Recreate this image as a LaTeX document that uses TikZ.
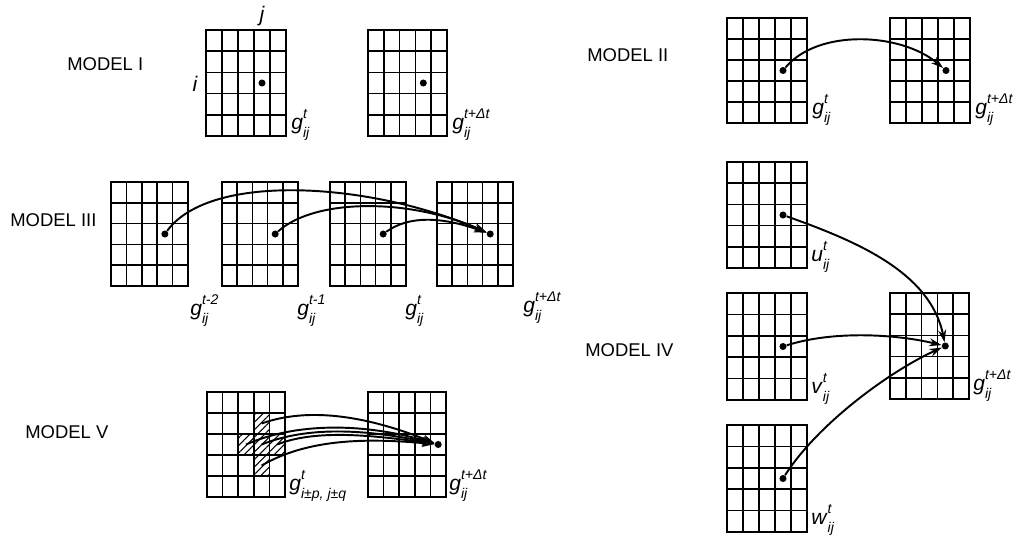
\documentclass[tikz,border=0pt]{standalone}
\usepackage{fontspec}
\setmainfont{Liberation Sans}
\usetikzlibrary{arrows.meta,patterns.meta}

\newcommand\mkgrid[5]{%
  \node[gridbox, minimum width=#4*0.02cm, minimum height=#5*0.02cm] (#1) at (#2,#3) {};
  \expandafter\gdef\csname gL#1\endcsname{#2}%
  \expandafter\gdef\csname gT#1\endcsname{#3}%
  \expandafter\gdef\csname gW#1\endcsname{#4}%
  \expandafter\gdef\csname gH#1\endcsname{#5}%
  \foreach \k in {1,...,4}{
    \draw[gridline] ({#2+\k*#4/5},#3) -- ({#2+\k*#4/5},{#3+#5});
    \draw[gridline] (#2,{#3+\k*#5/5}) -- ({#2+#4},{#3+\k*#5/5});
  }}
\newcommand\grset[1]{%
  \edef\grL{\csname gL#1\endcsname}\edef\grT{\csname gT#1\endcsname}%
  \edef\grW{\csname gW#1\endcsname}\edef\grH{\csname gH#1\endcsname}}
\newcommand\celldot[4]{%
  \grset{#2}%
  \node[dot] (#1) at ({\grL+(#3+0.5)*\grW/5},{\grT+(#4+0.5)*\grH/5}) {};}
\newcommand\cellcoord[4]{%
  \grset{#2}%
  \coordinate (#1) at ({\grL+(#3+0.5)*\grW/5},{\grT+(#4+0.5)*\grH/5});}
\newcommand\hatchcell[3]{%
  \grset{#1}%
  \fill[hatch] ({\grL+#2*\grW/5},{\grT+#3*\grH/5}) rectangle ({\grL+(#2+1)*\grW/5},{\grT+(#3+1)*\grH/5});}
\newcommand\vlab[3]{\textit{#1}\rlap{\raisebox{0.52em}{\fontsize{8}{8}\selectfont\itshape #2}}\raisebox{-0.38em}{\fontsize{8}{8}\selectfont\itshape #3}}
\newcommand\glab[2]{\vlab{g}{#1}{#2}}

\begin{document}
\begin{tikzpicture}[x=0.02cm,y=-0.02cm,
  gridbox/.style={draw, rectangle, line width=1pt, inner sep=0pt, outer sep=0pt, anchor=north west},
  gridline/.style={line width=1pt},
  dot/.style={circle, fill, inner sep=0pt, minimum size=4pt},
  conn/.style={line width=1.1pt, -{Stealth[length=7pt,width=4.5pt]}},
  model/.style={anchor=west, inner sep=0pt, font=\fontsize{10.5}{12}\selectfont},
  glabel/.style={anchor=base west, inner sep=0pt, font=\fontsize{12}{14}\selectfont},
  idx/.style={inner sep=0pt, font=\fontsize{12}{14}\selectfont\itshape},
  hatch/.style={pattern={Lines[angle=45,distance=3pt,line width=0.6pt]}}]
\useasboundingbox (0,0) rectangle (1018,535);
\fill[white] (0,0) rectangle (1018,535);

% ---------- MODEL I ----------
\node[model] (m1) at (67,64) {MODEL I};
\mkgrid{g1a}{206}{30}{80}{106}
\mkgrid{g1b}{368}{30}{79}{106}
\celldot{d1a}{g1a}{3}{2}
\celldot{d1b}{g1b}{3}{2}
\node[idx] (lj) at (262,16) {j};
\node[idx] (li) at (195,84) {i};
\node[glabel] (l1a) at (291,129) {\glab{t}{ij}};
\node[glabel] (l1b) at (452,129) {\glab{t+Δt}{ij}};

% ---------- MODEL II ----------
\node[model] (m2) at (587,55) {MODEL II};
\mkgrid{g2a}{727}{18}{80}{105}
\mkgrid{g2b}{890}{18}{80}{105}
\celldot{d2a}{g2a}{3}{2}
\celldot{d2b}{g2b}{3}{2}
\draw[conn] (d2a) .. controls +(35,-42) and +(-45,-38) .. (d2b);
\node[glabel] (l2a) at (812,114) {\glab{t}{ij}};
\node[glabel] (l2b) at (975,114) {\glab{t+Δt}{ij}};

% ---------- MODEL III ----------
\node[model] (m3) at (10,220) {MODEL III};
\mkgrid{g3a}{111}{182}{77}{104}
\mkgrid{g3b}{222}{182}{76}{104}
\mkgrid{g3c}{330}{182}{76}{104}
\mkgrid{g3d}{437}{182}{76}{104}
\celldot{d3a}{g3a}{3}{2}
\celldot{d3b}{g3b}{3}{2}
\celldot{d3c}{g3c}{3}{2}
\celldot{d3d}{g3d}{3}{2}
\draw[conn] (d3a) .. controls +(45,-62) and +(-120,-52) .. (d3d);
\draw[conn] (d3b) .. controls +(40,-36) and +(-80,-36) .. (d3d);
\draw[conn] (d3c) .. controls +(25,-18) and +(-50,-18) .. (d3d);
\node[glabel] (l3a) at (190,315) {\glab{t-2}{ij}};
\node[glabel] (l3b) at (297,315) {\glab{t-1}{ij}};
\node[glabel] (l3c) at (405,315) {\glab{t}{ij}};
\node[glabel] (l3d) at (523,312) {\glab{t+Δt}{ij}};

% ---------- MODEL IV ----------
\node[model] (m4) at (585,350) {MODEL IV};
\mkgrid{g4u}{727}{162}{80}{106}
\mkgrid{g4v}{727}{293}{80}{107}
\mkgrid{g4w}{727}{425}{80}{107}
\mkgrid{g4g}{890}{293}{79}{106}
\celldot{d4u}{g4u}{3}{2}
\celldot{d4v}{g4v}{3}{2}
\celldot{d4w}{g4w}{3}{2}
\celldot{d4g}{g4g}{3}{2}
\draw[conn] (d4u) .. controls +(70,25) and +(-15,-75) .. (d4g);
\draw[conn] (d4v) .. controls +(50,-16) and +(-50,-12) .. (d4g);
\draw[conn] (d4w) .. controls +(35,-55) and +(-55,25) .. (d4g);
\node[glabel] (l4u) at (811,261) {\vlab{u}{t}{ij}};
\node[glabel] (l4v) at (811,393) {\vlab{v}{t}{ij}};
\node[glabel] (l4w) at (811,524) {\vlab{w}{t}{ij}};
\node[glabel] (l4g) at (973,390) {\glab{t+Δt}{ij}};

% ---------- MODEL V ----------
\node[model] (m5) at (25,432) {MODEL V};
\mkgrid{g5a}{207}{392}{78}{105}
\mkgrid{g5b}{368}{392}{78}{105}
\hatchcell{g5a}{3}{1}
\hatchcell{g5a}{2}{2}
\hatchcell{g5a}{3}{2}
\hatchcell{g5a}{4}{2}
\hatchcell{g5a}{3}{3}
\cellcoord{s5a}{g5a}{3}{1}
\cellcoord{s5b}{g5a}{2}{2}
\cellcoord{s5c}{g5a}{3}{2}
\cellcoord{s5d}{g5a}{4}{2}
\cellcoord{s5e}{g5a}{3}{3}
\celldot{d5}{g5b}{4}{2}
\draw[conn] (s5a) .. controls +(45,-16) and +(-75,-30) .. (d5);
\draw[conn] (s5b) .. controls +(50,-22) and +(-75,-22) .. (d5);
\draw[conn] (s5c) .. controls +(45,-18) and +(-75,-16) .. (d5);
\draw[conn] (s5d) .. controls +(35,-14) and +(-75,-11) .. (d5);
\draw[conn] (s5e) .. controls +(45,-26) and +(-75,-7) .. (d5);
\node[glabel] (l5a) at (289,490) {\glab{t}{i±p, j±q}};
\node[glabel] (l5b) at (449,490) {\glab{t+Δt}{ij}};
\end{tikzpicture}
\end{document}
